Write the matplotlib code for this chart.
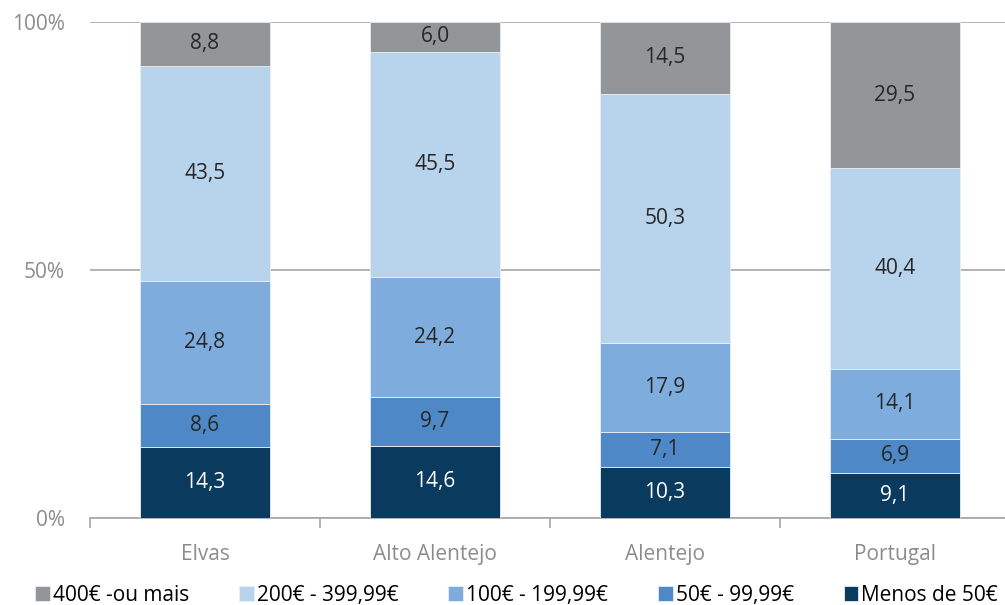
import numpy as np
import matplotlib.pyplot as plt

# data
regions = ["Elvas", "Alto Alentejo", "Alentejo", "Portugal"]
series = ["Menos de 50€", "50€ - 99,99€", "100€ - 199,99€", "200€ - 399,99€", "400€ -ou mais"]
menos_50 = [14.3, 14.6, 10.3, 9.1]
de_50_99 = [8.6, 9.7, 7.1, 6.9]
de_100_199 = [24.8, 24.2, 17.9, 14.1]
de_200_399 = [43.5, 45.5, 50.3, 40.4]
mais_400 = [8.8, 6.0, 14.5, 29.5]

colors = ["#0b3a5f", "#4f88c6", "#7eacdc", "#b8d3ec", "#939598"]
text_colors = ["white", "#262626", "#262626", "#262626", "#262626"]

plt.rcParams['font.family'] = ['Open Sans', 'DejaVu Sans']

values = np.array([menos_50, de_50_99, de_100_199, de_200_399, mais_400])
pct = values / values.sum(axis=0) * 100

fig = plt.figure(figsize=(10.05, 6.05), dpi=100)
ax = fig.add_axes([90/1005, 87/605, 920/1005, 496/605])

x = np.arange(len(regions))
bottom = np.zeros(len(regions))
handles = []
for i, name in enumerate(series):
    b = ax.bar(x, pct[i], 0.565, bottom=bottom, color=colors[i], edgecolor="#e8eef5",
               linewidth=0.6, zorder=3, label=name)
    handles.append(b)
    for j in range(len(regions)):
        ax.text(x[j], bottom[j] + pct[i][j] / 2, f"{values[i][j]:.1f}".replace(".", ","),
                ha="center", va="center", fontsize=15, color=text_colors[i], zorder=4)
    bottom += pct[i]

ax.set_xlim(-0.5, 3.5)
ax.set_ylim(0, 100)
ax.set_yticks([0, 50, 100])
ax.set_yticklabels(["0%", "50%", "100%"])
ax.yaxis.grid(True, color="#a6a6a6", linewidth=1.2, zorder=0)
ax.tick_params(axis="y", length=0, pad=18, labelsize=15, labelcolor="#8c8c8c")

ax.set_xticks(x)
ax.set_xticklabels(regions)
ax.set_xticks([-0.5, 0.5, 1.5, 2.5], minor=True)
ax.tick_params(axis="x", which="major", length=0, pad=19, labelsize=15, labelcolor="#8c8c8c")
ax.tick_params(axis="x", which="minor", length=7, width=1.2, color="#a6a6a6", direction="out")

for s in ["left", "right", "top"]:
    ax.spines[s].set_visible(False)
ax.spines["bottom"].set_color("#a6a6a6")
ax.spines["bottom"].set_linewidth(1.2)

fig.legend(handles[::-1], series[::-1], loc="center left", bbox_to_anchor=(0.035, 0.016),
           ncol=5, frameon=False, fontsize=15, handlelength=0.7, handleheight=0.7,
           handletextpad=0.15, columnspacing=2.4, borderaxespad=0, borderpad=0)

fig.savefig("out.png", dpi=100)
